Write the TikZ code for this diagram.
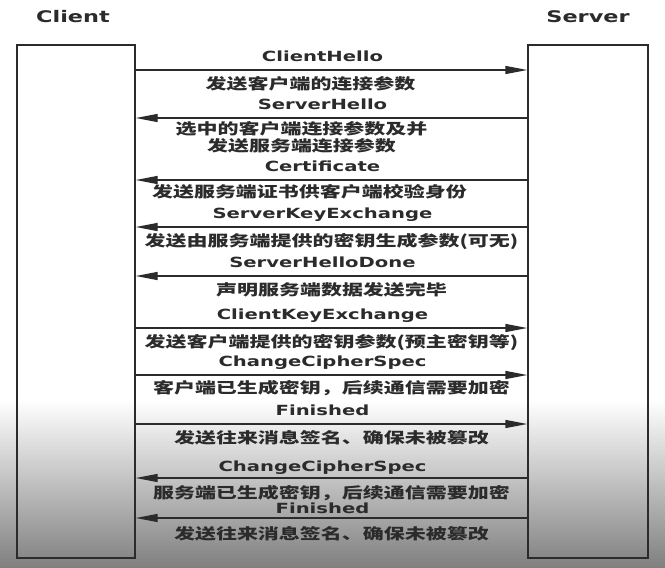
\documentclass[tikz,border=0pt]{standalone}
\usepackage{fontspec}
\usepackage{xcolor}
\usepackage{tikz}
\usetikzlibrary{arrows.meta, positioning}
\newfontfamily\latinfont[FakeStretch=1.4]{DejaVu Sans}
\newfontfamily\cjkfont[FakeStretch=1.4]{Noto Sans CJK SC}
\definecolor{ink}{HTML}{2B2B2B}

\begin{document}
\begin{tikzpicture}[x=1pt, y=-1pt, line width=1.4pt, color=ink,
    lifeline/.style={draw, rectangle, inner sep=0pt, minimum height=513pt},
    msg/.style={-{Triangle[length=22pt, width=8pt]}},
    en/.style={font=\latinfont\bfseries\fontsize{14}{17}\selectfont, inner sep=0pt, text height=10pt, text depth=3pt},
    cn/.style={font=\cjkfont\bfseries\fontsize{15}{15}\selectfont, inner sep=0pt, text height=12pt, text depth=3pt, align=center}]

    % Page and the grey fade at the bottom
    \useasboundingbox (0,0) rectangle (665,568);
    \fill[white] (0,0) rectangle (665,568);
    \shade[top color=white, bottom color=black!50] (0,400) rectangle (665,568);

    % The two parties
    \node[font=\latinfont\bfseries\fontsize{16}{19}\selectfont] (client) at (73,17) {Client};
    \node[font=\latinfont\bfseries\fontsize{16}{19}\selectfont] (server) at (588,17) {Server};
    \node[lifeline, minimum width=118pt] (cbox) at (76,301.5) {};
    \node[lifeline, minimum width=120pt] (sbox) at (588,301.5) {};

    % Hello phase
    \draw[msg] (cbox.east |- 0,70) -- node[en, above=5pt, xshift=-9pt] {ClientHello} node[cn, below=7pt, xshift=-21pt] {发送客户端的连接参数} (sbox.west |- 0,70);
    \draw[msg] (sbox.west |- 0,118) -- node[en, above=5pt, xshift=-9pt] {ServerHello} node[cn, text height=29pt, below=4pt, xshift=-30pt] {选中的客户端连接参数及并\\[2pt]发送服务端连接参数} (cbox.east |- 0,118);
    \draw[msg] (sbox.west |- 0,180) -- node[en, above=5pt, xshift=-9pt] {Certificate} node[cn, below=5pt, xshift=-22pt] {发送服务端证书供客户端校验身份} (cbox.east |- 0,180);
    \draw[msg] (sbox.west |- 0,227) -- node[en, above=5pt, xshift=-9pt] {ServerKeyExchange} node[cn, below=7pt] {发送由服务端提供的密钥生成参数(可无)} (cbox.east |- 0,227);
    \draw[msg] (sbox.west |- 0,276) -- node[en, above=5pt, xshift=-9pt] {ServerHelloDone} node[cn, below=7pt] {声明服务端数据发送完毕} (cbox.east |- 0,276);

    % Key exchange and switch to encryption
    \draw[msg] (cbox.east |- 0,328) -- node[en, above=5pt, xshift=-9pt] {ClientKeyExchange} node[cn, below=7pt] {发送客户端提供的密钥参数(预主密钥等)} (sbox.west |- 0,328);
    \draw[msg] (cbox.east |- 0,375) -- node[en, above=5pt, xshift=-9pt] {ChangeCipherSpec} node[cn, below=6pt] {客户端已生成密钥，后续通信需要加密} (sbox.west |- 0,375);
    \draw[msg] (cbox.east |- 0,424) -- node[en, above=5pt, xshift=-9pt] {Finished} node[cn, below=7pt] {发送往来消息签名、确保未被篡改} (sbox.west |- 0,424);
    \draw[msg] (sbox.west |- 0,478) -- node[en, above=3pt, xshift=-9pt] {ChangeCipherSpec} node[cn, below=8pt] {服务端已生成密钥，后续通信需要加密} (cbox.east |- 0,478);
    \draw[msg] (sbox.west |- 0,518) -- node[en, above=1pt, xshift=-9pt] {Finished} node[cn, below=9pt] {发送往来消息签名、确保未被篡改} (cbox.east |- 0,518);

\end{tikzpicture}
\end{document}
